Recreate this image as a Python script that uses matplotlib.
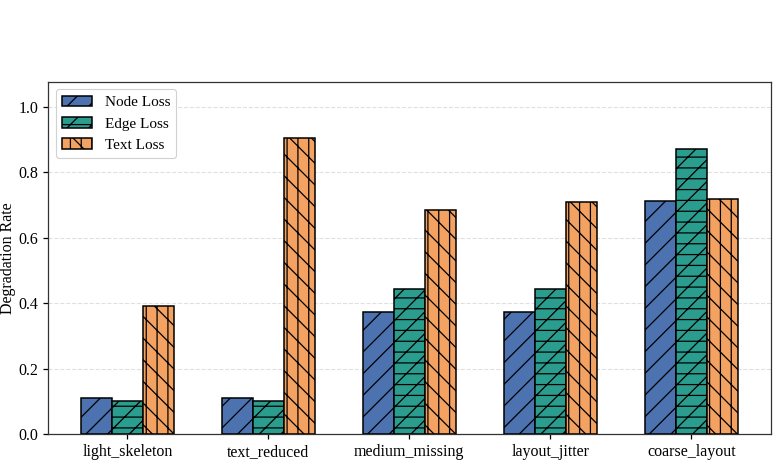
import matplotlib
matplotlib.use("Agg")
import matplotlib.pyplot as plt
import numpy as np

DPI = 130
s = 100.0 / DPI  # keep pixel sizes as if at 100 dpi

plt.rcParams['font.family'] = ['Liberation Serif', 'DejaVu Serif']
plt.rcParams['hatch.linewidth'] = 0.9 * s
plt.rcParams['axes.linewidth'] = 0.9 * s
for a in ('xtick', 'ytick'):
    plt.rcParams[f'{a}.major.size'] = 3.5 * s
    plt.rcParams[f'{a}.major.width'] = 0.9 * s
    plt.rcParams[f'{a}.major.pad'] = 3.5 * s
plt.rcParams['legend.fancybox'] = True

categories = ["light_skeleton", "text_reduced", "medium_missing", "layout_jitter", "coarse_layout"]
node_loss = [0.111, 0.111, 0.372, 0.372, 0.713]
edge_loss = [0.102, 0.102, 0.442, 0.442, 0.872]
text_loss = [0.391, 0.905, 0.686, 0.709, 0.719]

series = [("Node Loss", node_loss, "#4C72B0", "//"),
          ("Edge Loss", edge_loss, "#2A9D8F", "--//"),
          ("Text Loss", text_loss, "#F4A261", "\\\\||")]

fig = plt.figure(figsize=(777 / DPI, 461 / DPI), dpi=DPI)
ax = fig.add_axes([0.0618, 0.0586, 0.930, 0.764])

x = np.arange(len(categories))
w = 0.22
for i, (name, vals, col, hatch) in enumerate(series):
    ax.bar(x + (i - 1) * w, vals, w, label=name, color=col, edgecolor="black",
           linewidth=1.1 * s, hatch=hatch, zorder=3)

fs = 11.5 * s
ax.set_xticks(x)
ax.set_xticklabels(categories, fontsize=fs)
ax.set_ylim(0, 1.077)
ax.set_yticks([0.0, 0.2, 0.4, 0.6, 0.8, 1.0])
ax.tick_params(axis='y', labelsize=fs)
ax.set_ylabel("Degradation Rate", fontsize=fs)
ax.yaxis.set_label_coords(-0.044, 0.5)
ax.yaxis.grid(True, linestyle="--", color="#cccccc", alpha=0.6, linewidth=0.8 * s, zorder=0)
ax.set_axisbelow(True)
for sp in ax.spines.values():
    sp.set_color("#333333")
leg = ax.legend(loc="upper left", fontsize=11 * s, framealpha=0.9)
leg.get_frame().set_linewidth(0.8 * s)

fig.savefig("out.png", dpi=DPI)
